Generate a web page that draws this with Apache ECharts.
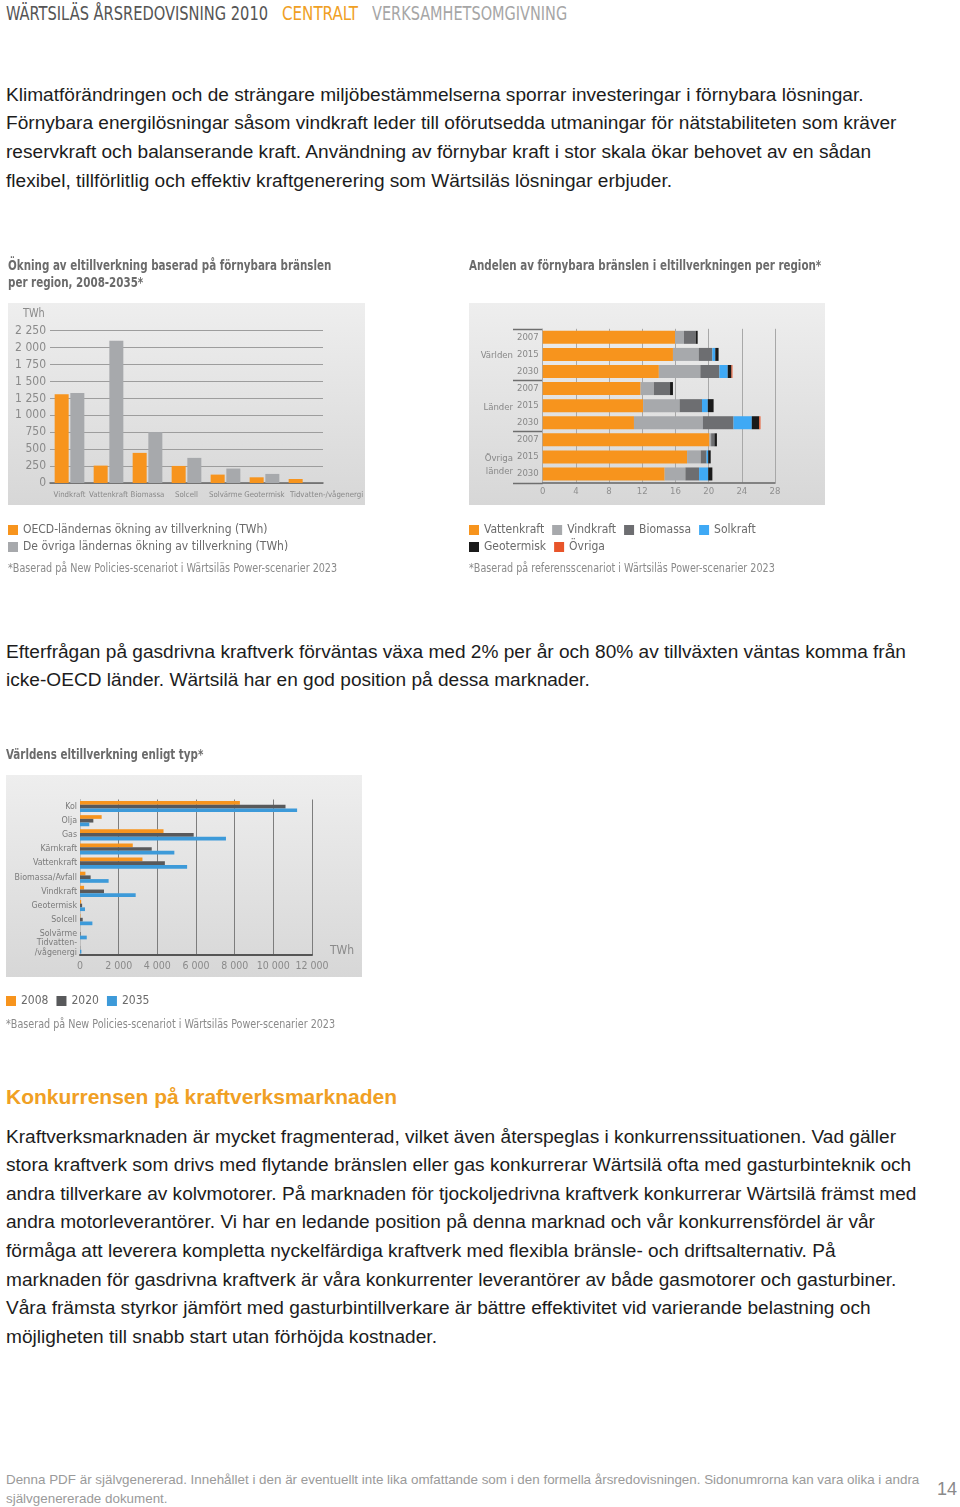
<!DOCTYPE html>
<html><head><meta charset="utf-8">
<script src="https://cdn.jsdelivr.net/npm/echarts@6/dist/echarts.min.js"></script>
<style>
body{margin:0;width:960px;height:1507px;position:relative;background:#fff;font-family:"Liberation Sans",Arial,sans-serif;overflow:hidden}
.hdr{position:absolute;top:2px;font-family:"DejaVu Sans Condensed","Liberation Sans Narrow",sans-serif;font-size:19px;line-height:22px;white-space:nowrap;transform-origin:0 0}
.p{position:absolute;left:6px;font-size:19.1px;color:#1c1c1c;white-space:nowrap}
.ch{position:absolute}
</style></head><body>
<div class="hdr" data-w="262" style="left:6px;color:#555">WÄRTSILÄS ÅRSREDOVISNING 2010</div>
<div class="hdr" data-w="76" style="left:282px;color:#f0a024">CENTRALT</div>
<div class="hdr" data-w="195" style="left:372px;color:#a6a6a6">VERKSAMHETSOMGIVNING</div>

<div class="p" style="top:80.6px;line-height:28.7px">Klimatförändringen och de strängare miljöbestämmelserna sporrar investeringar i förnybara lösningar.<br>Förnybara energilösningar såsom vindkraft leder till oförutsedda utmaningar för nätstabiliteten som kräver<br>reservkraft och balanserande kraft. Användning av förnybar kraft i stor skala ökar behovet av en sådan<br>flexibel, tillförlitlig och effektiv kraftgenerering som Wärtsiläs lösningar erbjuder.</div>

<div id="c1" class="ch" style="left:0;top:250px;width:470px;height:335px"></div>
<div id="c2" class="ch" style="left:460px;top:250px;width:500px;height:335px"></div>

<div class="p" style="top:637.6px;line-height:28.7px">Efterfrågan på gasdrivna kraftverk förväntas växa med 2% per år och 80% av tillväxten väntas komma från<br>icke-OECD länder. Wärtsilä har en god position på dessa marknader.</div>

<div id="c3" class="ch" style="left:0;top:740px;width:470px;height:300px"></div>

<div style="position:absolute;left:6px;top:1085px;font-size:21px;line-height:24px;font-weight:bold;color:#f0a024;white-space:nowrap">Konkurrensen på kraftverksmarknaden</div>

<div class="p" style="top:1122.7px;line-height:28.57px">Kraftverksmarknaden är mycket fragmenterad, vilket även återspeglas i konkurrenssituationen. Vad gäller<br>stora kraftverk som drivs med flytande bränslen eller gas konkurrerar Wärtsilä ofta med gasturbinteknik och<br>andra tillverkare av kolvmotorer. På marknaden för tjockoljedrivna kraftverk konkurrerar Wärtsilä främst med<br>andra motorleverantörer. Vi har en ledande position på denna marknad och vår konkurrensfördel är vår<br>förmåga att leverera kompletta nyckelfärdiga kraftverk med flexibla bränsle- och driftsalternativ. På<br>marknaden för gasdrivna kraftverk är våra konkurrenter leverantörer av både gasmotorer och gasturbiner.<br>Våra främsta styrkor jämfört med gasturbintillverkare är bättre effektivitet vid varierande belastning och<br>möjligheten till snabb start utan förhöjda kostnader.</div>

<div style="position:absolute;left:6px;top:1469.5px;font-size:13.4px;line-height:19px;color:#9a9a9a;white-space:nowrap">Denna PDF är självgenererad. Innehållet i den är eventuellt inte lika omfattande som i den formella årsredovisningen. Sidonumrorna kan vara olika i andra<br>självgenererade dokument.</div>
<div style="position:absolute;left:937px;top:1478px;font-size:18px;line-height:22px;color:#8a8a8a">14</div>

<script>
document.querySelectorAll('[data-w]').forEach(el => {
  el.style.transform = 'scaleX(' + (+el.dataset.w / el.offsetWidth) + ')';
});

// ---------- data ----------
const c1Categories = ['Vindkraft','Vattenkraft','Biomassa','Solcell','Solvärme','Geotermisk','Tidvatten-/vågenergi'];
const c1SeriesNames = ['OECD-ländernas ökning av tillverkning (TWh)','De övriga ländernas ökning av tillverkning (TWh)'];
const c1OECD  = [1310, 257, 445, 252, 124, 84, 59];
const c1Other = [1330, 2100, 752, 371, 213, 134, 0];

const c2Groups = ['Världen','Länder','Övriga länder'];
const c2Years  = ['2007','2015','2030'];
const c2SeriesNames = ['Vattenkraft','Vindkraft','Biomassa','Solkraft','Geotermisk','Övriga'];
const c2Vatten = [15.95, 15.7, 14.0, 11.8, 12.1, 11.0, 20.1, 17.4, 14.7];
const c2Vind   = [1.08, 3.1, 5.0, 1.6, 4.4, 8.3, 0.2, 1.65, 2.5];
const c2Bio    = [1.41, 1.65, 2.3, 1.95, 2.7, 3.7, 0.4, 0.7, 1.65];
const c2Sol    = [0, 0.35, 1.0, 0, 0.7, 2.2, 0, 0.2, 1.1];
const c2Geo    = [0.24, 0.4, 0.45, 0.35, 0.7, 0.9, 0.3, 0.3, 0.5];
const c2Ovr    = [0, 0, 0.12, 0, 0, 0.15, 0, 0, 0];

const c3Categories = ['Kol','Olja','Gas','Kärnkraft','Vattenkraft','Biomassa/Avfall','Vindkraft','Geotermisk','Solcell','Solvärme','Tidvatten-/vågenergi'];
const c3Years = ['2008','2020','2035'];
const c3Y2008 = [8270, 1120, 4320, 2730, 3230, 280, 210, 60, 20, 0, 0];
const c3Y2020 = [10630, 690, 5880, 3710, 4390, 550, 1240, 110, 140, 30, 10];
const c3Y2035 = [11230, 480, 7550, 4880, 5540, 1480, 2880, 260, 640, 350, 70];

// ---------- styles ----------
const FC = '"DejaVu Sans Condensed","Liberation Sans Narrow",sans-serif';
const ORANGE = '#f7941d', GRAY = '#a7a9ac', MID = '#6d6e71', DARK = '#58595b', BLUE = '#3d9ad9', BLUE2 = '#3fa9f5', BLACK = '#1a1a1a', RED = '#e8552a';
const fmt = v => v >= 1000 ? Math.floor(v/1000) + ' ' + String(v % 1000).padStart(3,'0') : String(v);
function bg(x, y, w, h) {
  return {type:'rect', z:-100, shape:{x, y, width:w, height:h},
    style:{fill:new echarts.graphic.LinearGradient(0,0,0,1,[{offset:0,color:'#eeeeee'},{offset:1,color:'#d7d7d7'}])}};
}
function txt(x, y, t, size, color, weight, sx) {
  return {type:'text', x:x, y:y, scaleX:sx, scaleY:1,
    style:{text:t, fontFamily:FC, fontSize:size, fontWeight:weight, fill:color, align:'left', verticalAlign:'middle'}};
}
const title = (x, y, t) => txt(x, y, t, 14, '#6b6b6b', 'bold', 0.82);
const note = (x, y, t) => txt(x, y, t, 12, '#8a8a8a', 'normal', 0.89);
const legTxt = {fontFamily:FC, fontSize:12, color:'#6a6a6a'};
const leg = (data, left, top) => ({data, left, top, itemWidth:10, itemHeight:10, itemGap:8, icon:'rect', textStyle:legTxt, padding:0});

// ---------- chart 1 ----------
const ch1 = echarts.init(document.getElementById('c1'));
const c1AxisData = c1Categories.map((c, i) => i === c1Categories.length - 1
  ? {value:c, textStyle:{padding:[0,0,0,46]}} : c);
ch1.setOption({
  animation:false,
  grid:{left:50, top:80.7, width:273, height:152.3},
  xAxis:{type:'category', data:c1AxisData, axisLine:{lineStyle:{color:'#666', width:1.5}}, axisTick:{show:false},
    axisLabel:{interval:0, margin:8, fontFamily:FC, fontSize:7.8, color:'#888'}},
  yAxis:{type:'value', min:0, max:2250, interval:250, axisLine:{show:false}, axisTick:{show:false},
    splitLine:{lineStyle:{color:'#9d9d9d'}},
    axisLabel:{margin:4, fontFamily:FC, fontSize:12, color:'#8a8a8a', formatter:fmt}},
  legend:[leg([c1SeriesNames[0]], 8, 274), leg([c1SeriesNames[1]], 8, 291)],
  series:[
    {name:c1SeriesNames[0], type:'bar', data:c1OECD, barWidth:14, barGap:'12%', itemStyle:{color:ORANGE}},
    {name:c1SeriesNames[1], type:'bar', data:c1Other, barWidth:14, barGap:'12%', itemStyle:{color:GRAY}}
  ],
  graphic:[bg(8,53,357,202),
    title(8, 16.5, 'Ökning av eltillverkning baserad på förnybara bränslen'),
    title(8, 33.5, 'per region, 2008-2035*'),
    txt(23, 64, 'TWh', 12, '#8a8a8a', 'normal', 0.9),
    note(8, 319, '*Baserad på New Policies-scenariot i Wärtsiläs Power-scenarier 2023')]
});

// ---------- chart 2 ----------
const c2Rows = [];
c2Groups.forEach(() => c2Years.forEach(y => c2Rows.push(y)));
const c2Data = [c2Vatten, c2Vind, c2Bio, c2Sol, c2Geo, c2Ovr];
const c2Colors = [ORANGE, GRAY, MID, BLUE2, BLACK, RED];
const ch2 = echarts.init(document.getElementById('c2'));
const c2Base = [bg(9,53,356,202),
  title(9, 16.5, 'Andelen av förnybara bränslen i eltillverkningen per region*'),
  note(9, 319, '*Baserad på referensscenariot i Wärtsiläs Power-scenarier 2023')];
ch2.setOption({
  animation:false,
  grid:{left:82.7, top:78.8, width:232.3, height:153.7},
  xAxis:{type:'value', min:0, max:28, interval:4, axisLine:{show:true, lineStyle:{color:'#666', width:1.5}}, axisTick:{show:false},
    splitLine:{lineStyle:{color:'#a8a8a8'}},
    axisLabel:{margin:4, fontFamily:FC, fontSize:9.5, color:'#8f8f8f'}},
  yAxis:{type:'category', inverse:true, data:c2Rows.map((y,i)=>i), axisLine:{show:false}, axisTick:{show:false},
    axisLabel:{margin:4, fontFamily:FC, fontSize:9.5, color:'#888', formatter:(v)=>c2Rows[v]}},
  legend:[leg(c2SeriesNames.slice(0,4), 9, 274), leg(c2SeriesNames.slice(4), 9, 291)],
  series:c2SeriesNames.map((n,i)=>({name:n, type:'bar', stack:'s', data:c2Data[i], barWidth:13, itemStyle:{color:c2Colors[i]}})),
  graphic:c2Base
});
(function(){
  const p0 = ch2.convertToPixel({yAxisIndex:0}, 0), p1 = ch2.convertToPixel({yAxisIndex:0}, 1);
  const band = p1 - p0;
  const x0 = ch2.convertToPixel({xAxisIndex:0}, 0);
  const g = [];
  for (let k = 0; k <= 3; k++) {
    const y = Math.round(p0 - band/2 + band*3*k) + 0.5;
    g.push({type:'line', shape:{x1:53, y1:y, x2:x0, y2:y}, style:{stroke:'#6e6e6e', lineWidth:1.5}});
  }
  const lab = (t, y) => ({type:'text', x:53, y:y, style:{text:t, fontFamily:FC, fontSize:9.5, fill:'#888', align:'right', verticalAlign:'middle'}});
  g.push(lab(c2Groups[0], p0 + band*1 + 1.5));
  g.push(lab(c2Groups[1], p0 + band*4 + 1.5));
  const ov = c2Groups[2].split(' ');
  g.push(lab(ov[0], p0 + band*7 + 1.5));
  g.push(lab(ov[1], p0 + band*7.75 + 1.5));
  ch2.setOption({graphic:c2Base.concat(g)});
})();

// ---------- chart 3 ----------
const c3Data = [c3Y2008, c3Y2020, c3Y2035];
const c3Colors = [ORANGE, DARK, BLUE];
const ch3 = echarts.init(document.getElementById('c3'));
ch3.setOption({
  animation:false,
  grid:{left:80, top:59.5, width:232, height:155.5},
  xAxis:{type:'value', min:0, max:12000, interval:2000, name:'TWh', nameLocation:'end', nameGap:18,
    nameTextStyle:{fontFamily:FC, fontSize:12, color:'#8a8a8a', verticalAlign:'bottom', padding:[0,0,-2,0]},
    axisLine:{show:true, lineStyle:{color:'#555', width:2}}, axisTick:{show:false},
    splitLine:{lineStyle:{color:'#7d7d7d'}},
    axisLabel:{margin:6, fontFamily:FC, fontSize:10.5, color:'#8a8a8a', formatter:fmt}},
  yAxis:{type:'category', inverse:true, data:c3Categories, axisLine:{show:true, lineStyle:{color:'#bdbdbd'}}, axisTick:{show:false},
    axisLabel:{interval:0, margin:3, fontFamily:FC, fontSize:8.8, color:'#7a7a7a', lineHeight:10,
      formatter:v=>v.replace('-/', '-\n/')}},
  legend:leg(c3Years, 6, 255),
  series:c3Years.map((n,i)=>({name:n, type:'bar', data:c3Data[i], barWidth:3.7, barGap:'0%', itemStyle:{color:c3Colors[i]}})),
  graphic:[bg(6,35,356,202),
    title(6, 15, 'Världens eltillverkning enligt typ*'),
    note(6, 285, '*Baserad på New Policies-scenariot i Wärtsiläs Power-scenarier 2023')]
});
</script>
</body></html>
